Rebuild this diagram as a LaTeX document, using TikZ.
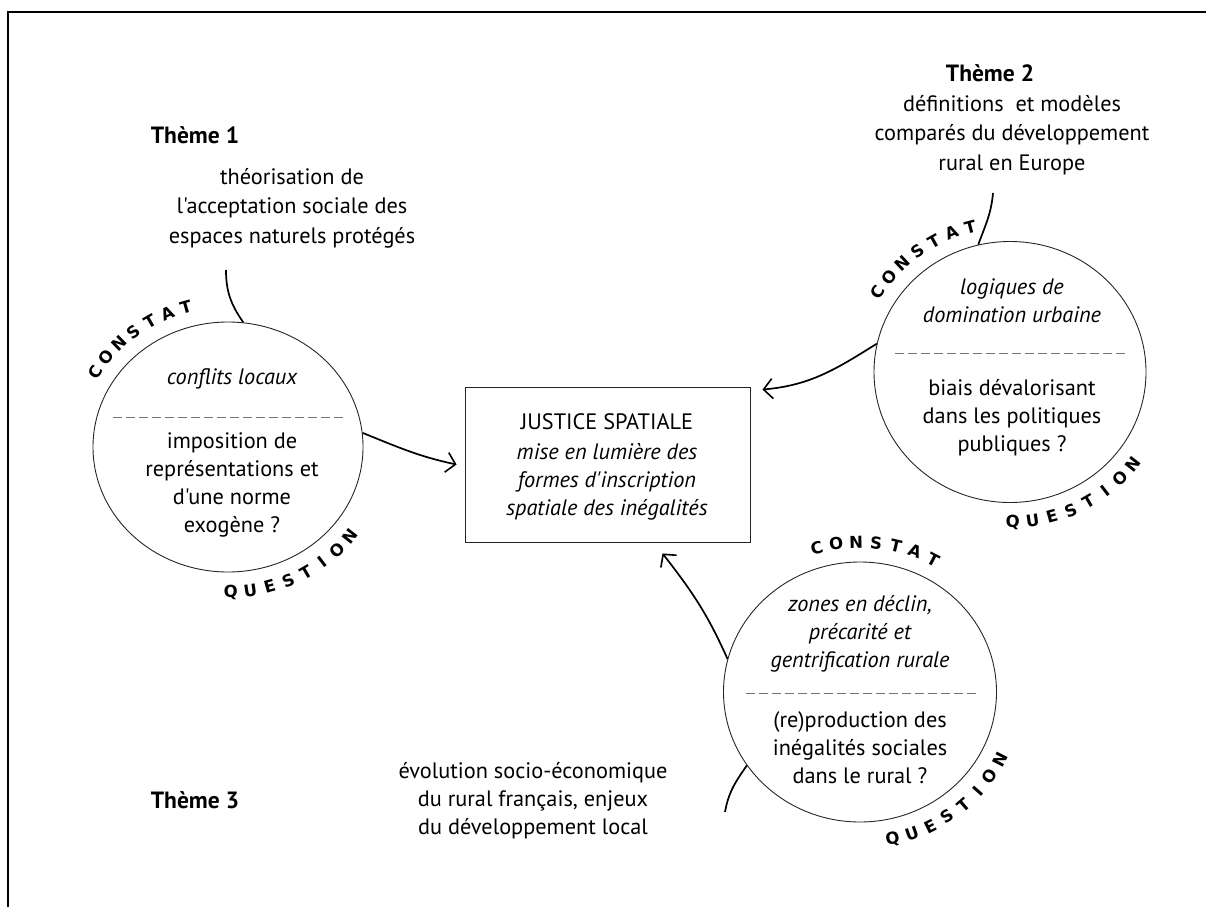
\documentclass[tikz,border=0pt]{standalone}
\usepackage{fontspec}
\setmainfont{PT Sans}[Ligatures=TeXOff]
\newfontfamily\lblfont{DejaVu Sans}
\usetikzlibrary{shapes.geometric,arrows.meta}
\newcommand\arcword[8]{%
  \foreach \l [count=\i] in {#6}{%
    \pgfmathsetmacro\a{#4+(\i-1)*(#5)}%
    \node[lbl,rotate=\a+#7] (#8\i) at ([shift={(\a:#2pt and #3pt)}]#1) {\l};}}
\begin{document}
\begin{tikzpicture}[x=1pt,y=1pt,
  body/.style={align=center,font=\fontsize{22.3}{28}\selectfont,inner sep=0pt},
  ital/.style={align=center,font=\fontsize{22.3}{28}\selectfont\itshape,inner sep=0pt},
  themetxt/.style={align=center,font=\fontsize{22.3}{29.5}\selectfont,inner sep=0pt},
  theme/.style={font=\fontsize{23.5}{25}\selectfont\bfseries,inner sep=0pt},
  bubble/.style={draw=black!85,line width=0.9pt,ellipse,inner sep=0pt},
  sep/.style={draw=black!55,line width=1pt,dash pattern=on 9pt off 4pt},
  link/.style={line width=1.7pt},
  arr/.style={link,-{Straight Barb[length=9pt,width=20pt,line width=1.6pt]}},
  lbl/.style={font=\lblfont\bfseries\fontsize{16.5}{16.5}\selectfont,inner sep=0pt}
]
\useasboundingbox (0,0) rectangle (1206,-907);
\draw[line width=1.6pt] (8,-907) |- (1206,-12);

% bubbles and box
\node[bubble,minimum width=270pt,minimum height=250pt] (c1) at (228,-447) {};
\node[bubble,minimum width=272pt,minimum height=261pt] (c2) at (1010,-372) {};
\node[bubble,minimum width=273pt,minimum height=260pt] (c3) at (860,-692) {};
\node[draw=black!85,line width=0.9pt,minimum width=285pt,minimum height=155pt,inner sep=0pt] (box) at (607.5,-464.5) {};

% box text
\node[body] (jt) at (607,-422) {JUSTICE SPATIALE};
\node[ital] (js) at (607,-482) {mise en lumière des\\formes d'inscription\\spatiale des inégalités};

% bubble 1
\node[ital] (c1a) at (232,-379) {conflits locaux};
\draw[sep] (113,-417) -- (343,-417);
\node[body] (c1b) at (232,-485) {imposition de\\représentations et\\d'une norme\\exogène ?};

% bubble 2
\node[ital] (c2a) at (1012,-301) {logiques de\\domination urbaine};
\draw[sep] (895,-353) -- (1126,-353);
\node[body] (c2b) at (1012,-418) {biais dévalorisant\\dans les politiques\\publiques ?};

% bubble 3
\node[ital] (c3a) at (860,-634) {zones en déclin,\\précarité et\\gentrification rurale};
\draw[sep] (746,-693) -- (977,-693);
\node[body] (c3b) at (860,-748) {(re)production des\\inégalités sociales\\dans le rural ?};

% themes
\node[theme] (t1) at (195,-135) {Thème 1};
\node[themetxt] (t1t) at (292,-208) {théorisation de\\l'acceptation sociale des\\espaces naturels protégés};
\node[theme] (t2) at (990,-73) {Thème 2};
\node[themetxt] (t2t) at (1012,-135) {définitions \ et modèles\\comparés du développement\\rural en Europe};
\node[theme] (t3) at (195,-800) {Thème 3};
\node[body] (t3t) at (533,-801) {évolution socio-économique\\du rural français, enjeux\\du développement local};

% connectors
\coordinate (t1e) at (226,-270);
\coordinate (t2e) at (993,-193);
\coordinate (t3e) at (725,-812);
\draw[link] (t1e) to[out=-90,in=125] (c1.83);
\draw[link] (t2e) to[out=-95,in=70] (c2.104);
\draw[link] (t3e) to[out=80,in=235] (c3.213);
\draw[arr] (c1.6) to[out=-22,in=168] ([xshift=-8pt]box.west);
\draw[arr] (c2.168) to[out=212,in=5] ([shift={(12pt,-3pt)}]box.north east);
\draw[arr] (c3.166) to[out=114,in=-52] ([shift={(55pt,-11pt)}]box.south);

% curved labels
\arcword{c1}{155}{145}{149}{-7.2}{C,O,N,S,T,A,T}{-90}{c1k}
\arcword{c1}{155}{145}{-89}{7.3}{Q,U,E,S,T,I,O,N}{90}{c1q}
\arcword{c2}{156}{150}{148}{-7.2}{C,O,N,S,T,A,T}{-90}{c2k}
\arcword{c2}{156}{150}{-89}{7.3}{Q,U,E,S,T,I,O,N}{90}{c2q}
\arcword{c3}{157}{150}{106}{-7.3}{C,O,N,S,T,A,T}{-90}{c3k}
\arcword{c3}{157}{150}{-78}{7.3}{Q,U,E,S,T,I,O,N}{90}{c3q}
\end{tikzpicture}
\end{document}
